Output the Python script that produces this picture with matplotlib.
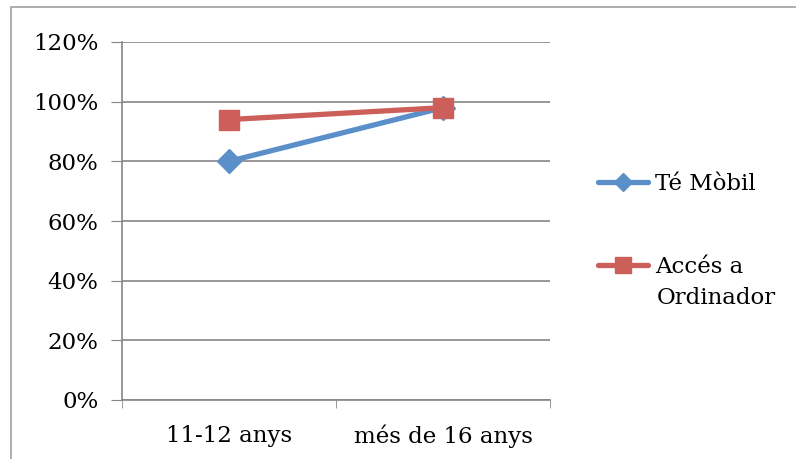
import matplotlib.pyplot as plt
from matplotlib.patches import Rectangle
from matplotlib.ticker import FuncFormatter

categories = ['11-12 anys', 'més de 16 anys']
te_mobil = [80, 98]
acces_ordinador = [94, 98]
labels = ['Té Mòbil', 'Accés a']

plt.rcParams['font.family'] = ['DejaVu Serif']
plt.rcParams['font.size'] = 16.5

fig = plt.figure(figsize=(7.96, 4.59), dpi=100)
ax = fig.add_axes([122/796, 1-400/459, (550-122)/796, 358/459])

# chart frame
fig.patches.append(Rectangle((11/796, -0.05), 1.0, 1-7/459+0.05, transform=fig.transFigure,
                             fill=False, edgecolor='#a0a0a0', linewidth=1.2))

x = list(range(len(categories)))
ax.plot(x, te_mobil, color='#5b8fc9', linewidth=3.8, marker='D', markersize=12,
        label=labels[0], solid_capstyle='round')
ax.plot(x, acces_ordinador, color='#cc5f5a', linewidth=3.8, marker='s', markersize=14,
        label=labels[1], solid_capstyle='round')

ax.set_xlim(-0.5, 1.5)
ax.set_ylim(0, 120)
ax.set_yticks(range(0, 121, 20))
ax.yaxis.set_major_formatter(FuncFormatter(lambda v, p: '%d%%' % v))
ax.set_xticks(x)
ax.set_xticklabels(categories)
ax.set_xticks([-0.5, 0.5, 1.5], minor=True)
ax.tick_params(axis='x', which='major', length=0, pad=18)
ax.tick_params(axis='x', which='minor', length=6, color='#868686')
ax.tick_params(axis='y', length=8, color='#868686', pad=9)
ax.grid(axis='y', color='#868686', linewidth=1.2)
ax.set_axisbelow(True)
for s in ['top', 'right']:
    ax.spines[s].set_visible(False)
for s in ['left', 'bottom']:
    ax.spines[s].set_color('#868686')
    ax.spines[s].set_linewidth(1.2)

leg = fig.legend(loc='upper left', bbox_to_anchor=(598/796, 1-173/459), frameon=False,
                 handlelength=2.2, handletextpad=0.3, labelspacing=2.65, markerscale=0.8,
                 borderaxespad=0, borderpad=0)
fig.text(657/796, 1-298/459, 'Ordinador', va='center', ha='left')

fig.savefig('out.png', dpi=100)
